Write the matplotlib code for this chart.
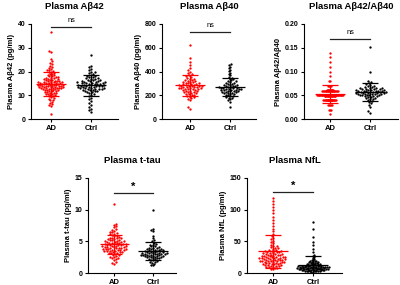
import numpy as np
import matplotlib
matplotlib.use("Agg")
from matplotlib import pyplot as plt

plt.rcParams['font.family'] = ['Liberation Sans', 'DejaVu Sans']
plt.rcParams['font.weight'] = 'bold'

groups = ["AD", "Ctrl"]

# Plasma Abeta42 (pg/ml)
ab42_ad = [36.5, 28.6, 28.1, 25.2, 24.3, 23.6, 23.0, 22.5, 22.0, 21.6, 21.2, 20.8, 20.5, 20.2,
           19.9, 19.6, 19.4, 19.1, 18.9, 18.6, 18.4, 18.2,
           17.9, 17.7, 17.6, 17.4, 17.3, 17.1, 17.0, 16.8, 16.7, 16.5, 16.4, 16.3, 16.1, 16.0,
           15.9, 15.8, 15.7, 15.6, 15.5, 15.45, 15.4, 15.3, 15.2, 15.1, 15.05, 15.0, 14.9, 14.8, 14.75, 14.7,
           14.6, 14.5, 14.45, 14.4, 14.3, 14.2, 14.15, 14.1, 14.0, 13.9, 13.85, 13.8, 13.7, 13.6, 13.55, 13.5,
           13.4, 13.3, 13.25, 13.2, 13.1, 13.0, 12.95, 12.9, 12.8, 12.7, 12.6, 12.5, 12.4, 12.3, 12.2, 12.1,
           11.9, 11.75, 11.6, 11.45, 11.3, 11.15, 11.0, 10.85, 10.7, 10.55, 10.4, 10.25, 10.1,
           9.8, 9.5, 9.2, 8.9, 8.6, 8.2, 7.8, 7.3, 6.9, 6.4, 5.8, 5.5, 2.0]
ab42_ctrl = [27.0, 22.3, 21.8, 21.2, 20.6, 20.0, 19.6, 19.2, 18.9, 18.6, 18.3, 18.0, 17.8, 17.6, 17.4, 17.2, 17.0,
             16.8, 16.6, 16.5, 16.3, 16.1, 16.0, 15.9, 15.7, 15.6, 15.5, 15.4, 15.3, 15.2, 15.1, 15.0, 14.9, 14.8,
             14.7, 14.6, 14.5, 14.4, 14.3, 14.2, 14.1, 14.0, 13.9, 13.8, 13.7, 13.6, 13.5, 13.4, 13.3, 13.2, 13.1,
             13.0, 12.9, 12.8, 12.7, 12.6, 12.5, 12.4, 12.3, 12.2, 12.0, 11.8, 11.6, 11.4, 11.2, 11.0, 10.6, 10.2,
             9.6, 9.0, 8.3, 7.5, 6.6, 5.8, 5.0, 4.3, 3.6, 3.1]

# Plasma Abeta40 (pg/ml)
ab40_ad = [625, 515, 480, 458, 430, 410, 395, 385, 376, 368, 360, 353, 347,
           341, 336, 331, 327, 323, 319, 315, 312, 309, 306, 303, 300, 297, 295, 292, 290, 287, 285, 282, 280,
           278, 276, 274, 272, 270, 268, 266, 264, 262, 260, 258, 256, 254, 251, 249, 246, 243, 240, 237, 234,
           231, 228, 225, 221, 217, 213, 209, 204, 199, 194, 188, 182, 175, 167, 158, 98, 84]
ab40_ctrl = [462, 452, 440, 428, 415, 402, 390, 378, 367, 357, 348, 340, 333, 327, 321, 316, 311, 306, 302,
             298, 294, 290, 287, 284, 281, 278, 275, 272, 270, 267, 265, 262, 260, 258, 256, 254, 252, 250, 248,
             246, 244, 242, 240, 238, 235, 233, 230, 228, 225, 222, 219, 216, 213, 209, 205, 201, 197, 192, 187,
             181, 175, 168, 158, 145, 105]

# Plasma Abeta42/Abeta40 (AD values are reported to two decimals)
ratio_ad = [0.14, 0.13, 0.12, 0.11, 0.10, 0.09, 0.08, 0.08, 0.07, 0.07, 0.07, 0.07,
            0.061, 0.060, 0.059, 0.061, 0.060, 0.059, 0.061, 0.060, 0.059, 0.061,
            0.060, 0.059, 0.061, 0.060, 0.059, 0.061, 0.060, 0.059, 0.061, 0.060,
            0.059, 0.061, 0.060, 0.059, 0.061, 0.060, 0.059, 0.060, 0.060, 0.060,
            0.051, 0.050, 0.049, 0.051, 0.050, 0.049, 0.051, 0.050, 0.049, 0.051,
            0.050, 0.049, 0.051, 0.050, 0.049, 0.051, 0.050, 0.049, 0.051, 0.050,
            0.049, 0.051, 0.050, 0.049, 0.051, 0.050, 0.049, 0.051, 0.050, 0.049,
            0.051, 0.050, 0.049, 0.051, 0.050, 0.049, 0.051, 0.050, 0.049, 0.051,
            0.050, 0.049, 0.051, 0.050, 0.049, 0.050, 0.050, 0.050, 0.050, 0.050,
            0.041, 0.040, 0.039, 0.041, 0.040, 0.039, 0.041, 0.040, 0.039, 0.041,
            0.040, 0.039, 0.041, 0.040, 0.039, 0.041, 0.040, 0.039, 0.041, 0.040,
            0.039, 0.040, 0.040, 0.040, 0.040,
            0.03, 0.03, 0.03, 0.03, 0.03, 0.02, 0.02, 0.02, 0.01]
ratio_ctrl = [0.152, 0.098, 0.080, 0.077, 0.075, 0.073, 0.071, 0.070, 0.069, 0.068, 0.067, 0.066, 0.0655,
              0.065, 0.0645, 0.064, 0.0635, 0.063, 0.0625, 0.062, 0.0615, 0.061, 0.0605, 0.060, 0.0596, 0.0592,
              0.0588, 0.0584, 0.058, 0.0576, 0.0572, 0.0568, 0.0564, 0.056, 0.0556, 0.0552, 0.0548, 0.0544, 0.054,
              0.0536, 0.0532, 0.0528, 0.0524, 0.052, 0.0515, 0.051, 0.0505, 0.050, 0.0495, 0.049, 0.0485, 0.048,
              0.047, 0.046, 0.045, 0.044, 0.043, 0.042, 0.040, 0.038, 0.036, 0.033, 0.030, 0.025, 0.016, 0.012]

# Plasma t-tau (pg/ml)
ttau_ad = [10.9, 7.8, 7.6, 7.4, 7.2, 7.0, 6.8, 6.7, 6.5, 6.4, 6.3, 6.2, 6.1, 6.0, 5.9, 5.8, 5.7, 5.6, 5.55,
           5.5, 5.45, 5.4, 5.3, 5.25, 5.2, 5.15, 5.1, 5.05, 5.0, 4.95, 4.9, 4.85, 4.8, 4.76, 4.72, 4.68, 4.64,
           4.6, 4.56, 4.52, 4.48, 4.44, 4.4, 4.36, 4.32, 4.28, 4.24, 4.2, 4.16, 4.12, 4.08, 4.04, 4.0, 3.96,
           3.92, 3.88, 3.84, 3.8, 3.76, 3.72, 3.68, 3.64, 3.6, 3.56, 3.52, 3.48, 3.44, 3.4, 3.35, 3.3, 3.25,
           3.2, 3.15, 3.1, 3.0, 2.9, 2.8, 2.7, 2.6, 2.5, 2.4, 2.3, 2.2, 2.0, 1.8, 1.6, 1.5]
ttau_ctrl = [10.0, 7.0, 6.8, 6.6, 5.9, 5.5, 5.2, 5.0, 4.8, 4.6, 4.5, 4.4, 4.3, 4.2, 4.1, 4.0, 3.95, 3.9,
             3.85, 3.8, 3.75, 3.7, 3.65, 3.6, 3.56, 3.52, 3.48, 3.44, 3.4, 3.36, 3.32, 3.28, 3.24, 3.2, 3.17,
             3.14, 3.11, 3.08, 3.05, 3.02, 3.0, 2.97, 2.94, 2.91, 2.88, 2.85, 2.82, 2.79, 2.76, 2.73, 2.7, 2.66,
             2.62, 2.58, 2.54, 2.5, 2.45, 2.4, 2.35, 2.3, 2.25, 2.2, 2.1, 2.0, 1.9, 1.8, 1.7, 1.6, 1.45, 1.3, 1.2]

# Plasma NfL (pg/ml)
nfl_ad = [119, 114, 109, 104, 99, 94, 89, 84, 79, 75, 70, 66, 62, 59, 56, 53, 51, 49, 47, 45, 43, 42, 41,
          40, 39, 38, 37, 36, 35.5, 35, 34.5, 34, 33.5, 33, 32.5, 32, 31.5, 31, 30.5, 30, 29.6, 29.2, 28.8,
          28.4, 28, 27.6, 27.2, 26.8, 26.4, 26, 25.6, 25.2, 24.8, 24.6, 24.4, 24, 23.6, 23.2, 23, 22.8, 22.4,
          22, 21.6, 21.2, 21, 20.8, 20.4, 20, 19.6, 19.2, 19, 18.8, 18.4, 18, 17.6, 17.2, 16.8, 16.4, 16,
          15.6, 15.2, 14.8, 14.4, 14, 13.5, 13, 12.5, 12, 11.5, 11, 10.5, 10, 9.5, 9, 8.5, 8, 7, 6]
nfl_ctrl = [80, 70, 57, 49, 44, 38, 33, 29, 27, 25,
            23, 22, 21, 20, 19.5, 19, 18.5, 18, 17.5, 17, 16.6, 16.2, 15.8, 15.4, 15, 14.7, 14.4, 14.1, 13.8,
            13.5, 13.2, 12.9, 12.6, 12.3, 12, 11.8, 11.6, 11.4, 11.2, 11, 10.8, 10.6, 10.5, 10.4, 10.2, 10.1, 10,
            9.8, 9.7, 9.6, 9.4, 9.3, 9.2, 9, 8.9, 8.8, 8.6, 8.5, 8.4, 8.2, 8.1, 8, 7.8, 7.7, 7.6, 7.4, 7.3, 7.2,
            7, 6.9, 6.8, 6.6, 6.5, 6.4, 6.2, 6.1, 6, 5.8, 5.7, 5.6, 5.4, 5.3, 5.2, 5, 4.9, 4.8, 4.6, 4.4, 4.2,
            4, 3.8, 3.6, 3.4, 3.2, 3, 2.8, 2.6, 2.4, 2.2, 2]

W, H = 400, 285


def beeswarm(ypix, d):
    # place points one by one as close to the centre line as possible
    order = np.argsort(ypix, kind="stable")
    xs = np.zeros(len(ypix))
    px, py = [], []
    for i in order:
        y = ypix[i]
        cands = [0.0]
        near_x, near_y = np.array([]), np.array([])
        if py:
            ax_, ay_ = np.array(px), np.array(py)
            m = np.abs(ay_ - y) < d
            near_x, near_y = ax_[m], ay_[m]
            for xj, yj in zip(near_x, near_y):
                dx = np.sqrt(d * d - (y - yj) ** 2)
                cands += [xj + dx, xj - dx]
        cands.sort(key=lambda c: (abs(c), c))
        for c in cands:
            if len(near_x) == 0 or np.all((near_x - c) ** 2 + (near_y - y) ** 2 >= d * d - 1e-6):
                xs[i] = c
                break
        px.append(xs[i])
        py.append(y)
    return xs


def fit_swarm(ypix, half_width):
    # pick the dot spacing so the swarm is about as wide as in the figure
    lo, hi = 0.3, 3.4
    for _ in range(12):
        d = (lo + hi) / 2
        if np.abs(beeswarm(ypix, d)).max() > half_width:
            hi = d
        else:
            lo = d
    return beeswarm(ypix, lo)


def panel(fig, left, right, top, bottom, xlim, ylim, yticks, fmt, title, ylabel, data, widths, sig_y, sig_text):
    ax = fig.add_axes([left / W, 1 - bottom / H, (right - left) / W, (bottom - top) / H])
    ax.set_xlim(*xlim)
    ax.set_ylim(*ylim)
    xppu = (right - left) / (xlim[1] - xlim[0])
    yppu = (bottom - top) / (ylim[1] - ylim[0])
    colors = ["#ff0000", "black"]
    for k, vals in enumerate(data):
        v = np.array(vals, dtype=float)
        off = fit_swarm(v * yppu, widths[k]) / xppu
        ax.scatter(k + off, v, s=2.8, c=colors[k], marker="o", linewidths=0, zorder=2)
        m, sd = v.mean(), v.std(ddof=1)
        ax.hlines(m, k - 0.38, k + 0.38, color=colors[k], lw=0.9, zorder=3)
        ax.hlines([m - sd, m + sd], k - 0.2, k + 0.2, color=colors[k], lw=0.9, zorder=3)
        ax.vlines(k, m - sd, m + sd, color=colors[k], lw=0.9, zorder=3)
    ax.plot([0, 1], [sig_y, sig_y], color="#222222", lw=0.9)
    if sig_text == "*":
        ax.text(0.5, sig_y + (ylim[1] - ylim[0]) * 0.015, "*", ha="center", va="bottom", fontsize=8, fontweight="bold")
    else:
        ax.text(0.5, sig_y + (ylim[1] - ylim[0]) * 0.03, sig_text, ha="center", va="bottom", fontsize=5.3, fontweight="normal")
    ax.set_xticks([0, 1])
    ax.set_xticklabels(groups, fontsize=5.5, fontweight="bold")
    ax.set_yticks(yticks)
    ax.set_yticklabels([fmt.format(t) for t in yticks], fontsize=5, fontweight="bold")
    ax.tick_params(length=2.5, width=0.8, pad=1.5)
    for s in ["top", "right"]:
        ax.spines[s].set_visible(False)
    for s in ["left", "bottom"]:
        ax.spines[s].set_linewidth(0.8)
    ax.set_title(title, fontsize=6.8, fontweight="bold", pad=11)
    ax.set_ylabel(ylabel, fontsize=5.5, fontweight="bold", labelpad=2)
    return ax


fig = plt.figure(figsize=(4, 2.85), dpi=100)

panel(fig, 31, 118, 24, 119, (-0.5, 1.675), (0, 40), [0, 10, 20, 30, 40], "{:g}",
      "Plasma Aβ42", "Plasma Aβ42 (pg/ml)", [ab42_ad, ab42_ctrl], [14, 14], 38.8, "ns")
panel(fig, 162, 256, 24, 119, (-0.7, 1.65), (0, 800), [0, 200, 400, 600, 800], "{:g}",
      "Plasma Aβ40", "Plasma Aβ40 (pg/ml)", [ab40_ad, ab40_ctrl], [12.5, 11.5], 730, "ns")
panel(fig, 304, 398, 24, 119, (-0.65, 1.7), (0, 0.2), [0, 0.05, 0.10, 0.15, 0.20], "{:.2f}",
      "Plasma Aβ42/Aβ40", "Plasma Aβ42/Aβ40", [ratio_ad, ratio_ctrl], [13, 16], 0.168, "ns")
panel(fig, 88, 176, 178, 273, (-0.68, 1.6), (0, 15), [0, 5, 10, 15], "{:g}",
      "Plasma t-tau", "Plasma t-tau (pg/ml)", [ttau_ad, ttau_ctrl], [12, 14], 12.6, "*")
panel(fig, 247, 342, 178, 273, (-0.65, 1.72), (0, 150), [0, 50, 100, 150], "{:g}",
      "Plasma NfL", "Plasma NfL (pg/ml)", [nfl_ad, nfl_ctrl], [14, 16], 128, "*")

fig.savefig("out.png", dpi=100)
